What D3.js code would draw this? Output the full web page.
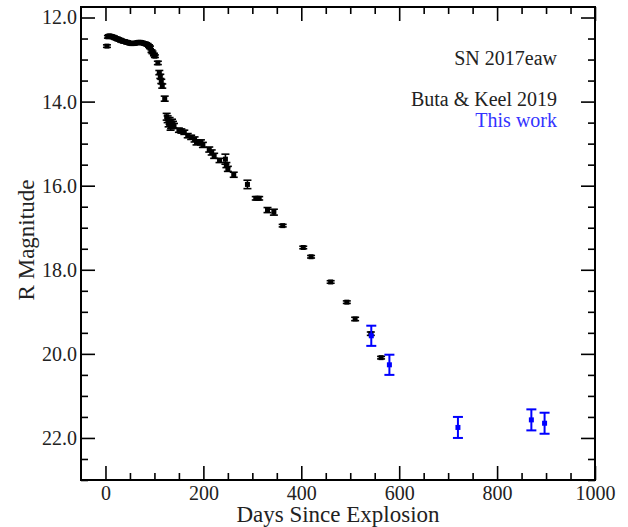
<!DOCTYPE html>
<html>
<head>
<meta charset="utf-8">
<script src="https://cdn.jsdelivr.net/npm/d3@7"></script>
<style>
  body{margin:0;background:#fff;}
  text{font-family:"Liberation Serif",serif;}
</style>
</head>
<body>
<div id="graphique"></div>
<script>
// light curve of SN 2017eaw, R band
const bkDays=[3,5,7,9,11,14,17,20,23,26,29,32,35,38,41,44,47,50,53,56,59,62,65,68,71,74,77,80,83,86,89,91,94,96,99,101,
  107,110,112,114,116,121,125,127,129,131,133,134,136,138,140,150,155,161,168,175,182,186,195,199,212,217,222,233,245,247,250,262,
  290,307,314,331,344,362,404,420,460,493,510,542,563];
const bkMag=[12.68,12.46,12.44,12.44,12.45,12.46,12.47,12.49,12.50,12.52,12.53,12.55,12.56,12.57,12.58,12.59,12.60,12.61,12.62,12.62,
  12.61,12.61,12.60,12.59,12.59,12.60,12.61,12.62,12.63,12.65,12.68,12.71,12.80,12.83,12.88,12.92,
  13.08,13.31,13.40,13.52,13.63,13.93,14.36,14.42,14.52,14.46,14.60,14.56,14.50,14.55,14.58,14.68,14.70,14.73,14.81,14.85,14.90,14.97,
  14.97,15.03,15.14,15.21,15.29,15.40,15.37,15.51,15.60,15.74,15.97,16.30,16.30,16.58,16.63,16.95,17.47,17.69,18.29,18.77,19.17,19.52,20.09];
const bkErr=[0.03,0.03,0.03,0.03,0.03,0.03,0.03,0.03,0.03,0.03,0.03,0.03,0.03,0.03,0.03,0.03,0.03,0.03,0.03,0.03,
  0.03,0.03,0.03,0.03,0.03,0.03,0.03,0.03,0.03,0.03,0.03,0.03,0.03,0.03,0.03,0.03,
  0.04,0.05,0.05,0.05,0.05,0.06,0.08,0.08,0.08,0.08,0.08,0.08,0.08,0.08,0.06,0.05,0.05,0.05,0.05,0.05,0.06,0.06,
  0.06,0.06,0.06,0.06,0.06,0.05,0.12,0.06,0.06,0.06,0.10,0.04,0.04,0.06,0.07,0.03,0.03,0.03,0.03,0.03,0.04,0.04,0.03];
const blDays=[543,580,720,870,897];
const blMag=[19.57,20.26,21.75,21.57,21.65];
const blErr=[0.24,0.24,0.25,0.25,0.25];
const xTicks=[0,200,400,600,800,1000];
const yTicks=[12,14,16,18,20,22];
const labels=["SN 2017eaw","Buta & Keel 2019","This work"];

const width=628,height=527;
const plot={left:81,right:595,top:7,bottom:480};
const svg=d3.select("#graphique").append("svg")
    .attr("width",width).attr("height",height);

const x_scale=d3.scaleLinear().domain([-50,1000]).range([plot.left,plot.right]);
const y_scale=d3.scaleLinear().domain([11.75,23]).range([plot.top,plot.bottom]);

const xMinor=d3.range(0,1001,50).filter(v=>v%200!==0);
const yMinor=d3.range(12,23.01,0.5).filter(v=>v%2!==0);

function styleAxis(g){
    g.select(".domain").remove();
    g.selectAll("line").attr("stroke","#000").attr("stroke-width",1.6);
    g.selectAll("text").attr("font-size",20).attr("fill","#222")
        .style("font-family","'Liberation Serif',serif");
}
// bottom
svg.append("g").attr("transform","translate(0,"+plot.bottom+")")
    .call(d3.axisBottom(x_scale).tickValues(xTicks).tickSize(-14).tickPadding(6).tickFormat(d3.format("d")))
    .call(styleAxis);
svg.append("g").attr("transform","translate(0,"+plot.bottom+")")
    .call(d3.axisBottom(x_scale).tickValues(xMinor).tickSize(-7).tickFormat(""))
    .call(styleAxis);
// top
svg.append("g").attr("transform","translate(0,"+plot.top+")")
    .call(d3.axisTop(x_scale).tickValues(xTicks).tickSize(-14).tickFormat(""))
    .call(styleAxis);
svg.append("g").attr("transform","translate(0,"+plot.top+")")
    .call(d3.axisTop(x_scale).tickValues(xMinor).tickSize(-7).tickFormat(""))
    .call(styleAxis);
// left
svg.append("g").attr("transform","translate("+plot.left+",0)")
    .call(d3.axisLeft(y_scale).tickValues(yTicks).tickSize(-14).tickPadding(4).tickFormat(d3.format(".1f")))
    .call(styleAxis);
svg.append("g").attr("transform","translate("+plot.left+",0)")
    .call(d3.axisLeft(y_scale).tickValues(yMinor).tickSize(-7).tickFormat(""))
    .call(styleAxis);
// right
svg.append("g").attr("transform","translate("+plot.right+",0)")
    .call(d3.axisRight(y_scale).tickValues(yTicks).tickSize(-14).tickFormat(""))
    .call(styleAxis);
svg.append("g").attr("transform","translate("+plot.right+",0)")
    .call(d3.axisRight(y_scale).tickValues(yMinor).tickSize(-7).tickFormat(""))
    .call(styleAxis);

svg.append("rect")
    .attr("x",plot.left).attr("y",plot.top)
    .attr("width",plot.right-plot.left).attr("height",plot.bottom-plot.top)
    .attr("fill","none").attr("stroke","#000").attr("stroke-width",2);

// error bar points
function drawPoints(days,mags,errs,color,cap,size,sw){
    const pts=days.map((d,i)=>({d:d,m:mags[i],e:errs[i]}));
    const g=svg.append("g").selectAll("g").data(pts).enter().append("g");
    g.append("line")
        .attr("x1",p=>x_scale(p.d)).attr("x2",p=>x_scale(p.d))
        .attr("y1",p=>y_scale(p.m-p.e)).attr("y2",p=>y_scale(p.m+p.e))
        .attr("stroke",color).attr("stroke-width",sw);
    [-1,1].forEach(s=>{
        g.append("line")
            .attr("x1",p=>x_scale(p.d)-cap/2).attr("x2",p=>x_scale(p.d)+cap/2)
            .attr("y1",p=>y_scale(p.m+s*p.e)).attr("y2",p=>y_scale(p.m+s*p.e))
            .attr("stroke",color).attr("stroke-width",sw);
    });
    g.append("rect")
        .attr("x",p=>x_scale(p.d)-size/2).attr("y",p=>y_scale(p.m)-size/2)
        .attr("width",size).attr("height",size).attr("fill",color);
}
drawPoints(bkDays,bkMag,bkErr,"#000",8,5,1.6);
drawPoints(blDays,blMag,blErr,"#0000ff",10,5,2);

// texts
const lx=557;
svg.append("text").attr("x",lx).attr("y",65).attr("text-anchor","end")
    .attr("font-size",20).attr("fill","#222").text(labels[0]);
svg.append("text").attr("x",lx).attr("y",106).attr("text-anchor","end")
    .attr("font-size",20).attr("fill","#222").text(labels[1]);
svg.append("text").attr("x",lx).attr("y",127).attr("text-anchor","end")
    .attr("font-size",20).attr("fill","#3333ff").text(labels[2]);

// axis titles
svg.append("text").attr("x",(plot.left+plot.right)/2).attr("y",522)
    .attr("text-anchor","middle").attr("font-size",23).attr("fill","#222")
    .text("Days Since Explosion");
svg.append("text").attr("transform","translate(34,240) rotate(-90)")
    .attr("text-anchor","middle").attr("font-size",23).attr("fill","#222")
    .text("R Magnitude");
</script>
</body>
</html>
